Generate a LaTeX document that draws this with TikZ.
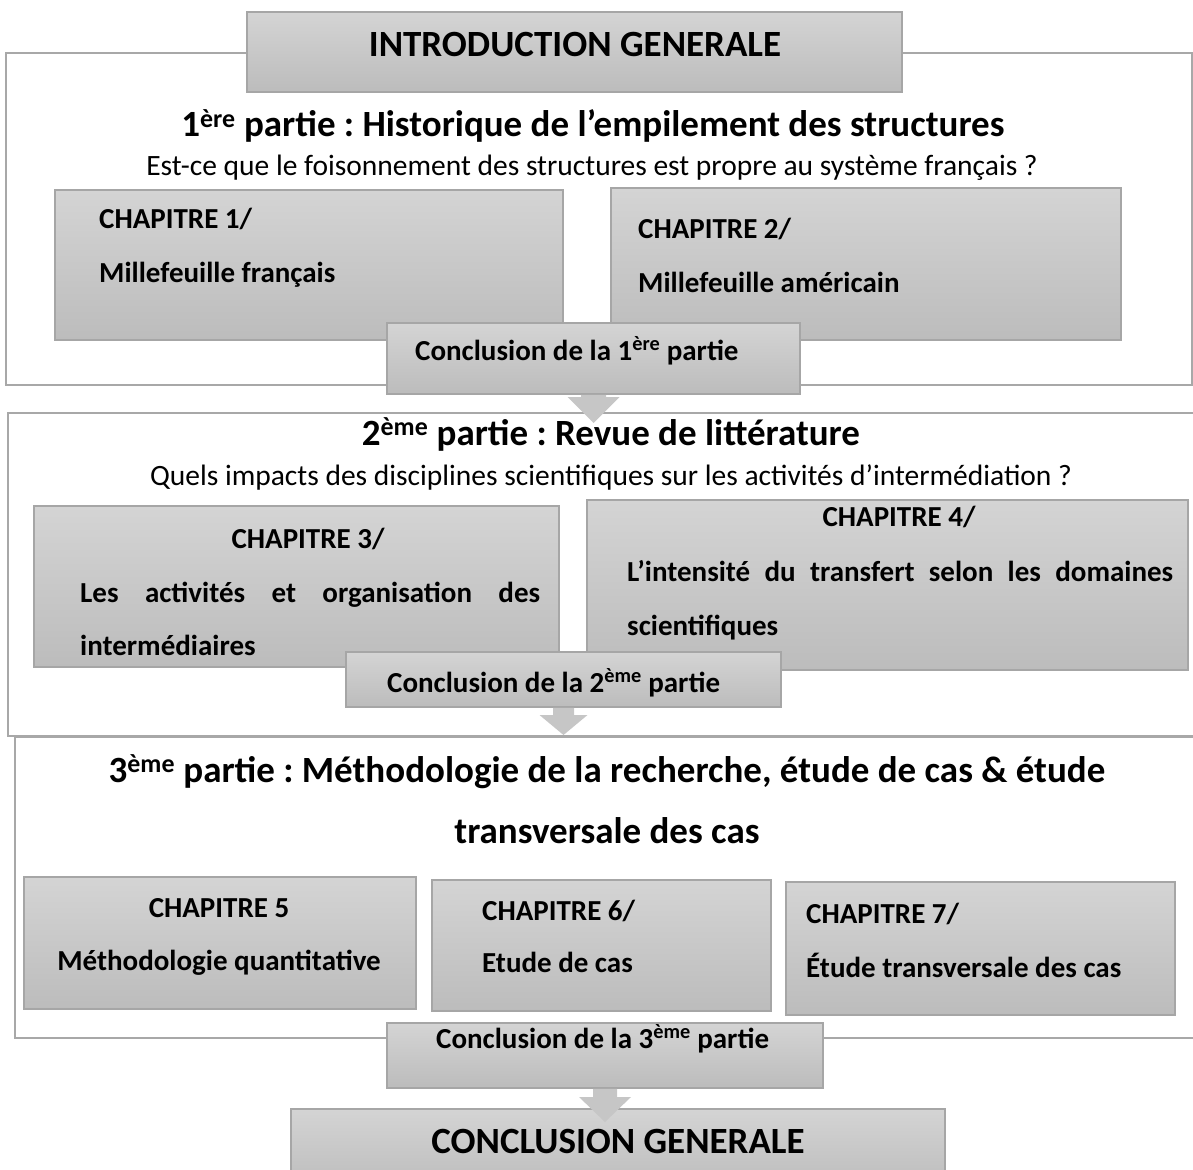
\documentclass[tikz,border=0pt]{standalone}
\usepackage{fontspec}
\setmainfont{Carlito}
\definecolor{boxtop}{HTML}{D4D4D4}
\definecolor{boxbot}{HTML}{BCBCBC}
\definecolor{boxline}{HTML}{A6A6A6}
\definecolor{frameline}{HTML}{A8A8A8}
\definecolor{arrowfill}{HTML}{C6C6C6}
\newcommand\fsz[1]{\fontsize{#1}{#1}\selectfont\frenchspacing}
\newcommand\mybox[6]{\node[#1, minimum width=#5pt, minimum height=#6pt] (#2) at (#3,#4) {};}
\newcommand\blockarr[5]{\fill[blockarrow, shift={(#1.south)}] (-#2,0.75) -- (#2,0.75) -- (#2,#3) -- (#4,#3) -- (0,#5) -- (-#4,#3) -- (-#2,#3) -- cycle;}
\begin{document}
\begin{tikzpicture}[x=1pt,y=-1pt,
  box/.style={draw=boxline, line width=1.5pt, top color=boxtop, bottom color=boxbot, rectangle, inner sep=0pt, outer sep=0pt, anchor=north west},
  framebox/.style={draw=frameline, line width=2pt, rectangle, inner sep=0pt, outer sep=0pt, anchor=north west},
  bigtxt/.style={font=\fsz{37}\bfseries, anchor=base, inner sep=0pt},
  head/.style={font=\fsz{37}\bfseries, anchor=base, inner sep=0pt},
  sub/.style={font=\fsz{29.5}, anchor=base, inner sep=0pt},
  chap/.style={font=\fsz{29}\bfseries, anchor=base west, inner sep=0pt},
  chapc/.style={font=\fsz{29}\bfseries, anchor=base, inner sep=0pt},
  blockarrow/.style={fill=arrowfill}
]
\useasboundingbox (0,0) rectangle (1193,1169);
\clip (0,0) rectangle (1193,1169);
% frames
\mybox{framebox}{p1}{6}{53}{1186}{332}
\mybox{framebox}{p2}{8}{413}{1200}{323}
\mybox{framebox}{p3}{15}{737}{1200}{301}
% boxes
\mybox{box}{intro}{247}{12}{655}{80}
\mybox{box}{ch1}{55}{190}{508}{150}
\mybox{box}{ch2}{611}{188}{510}{152}
\mybox{box}{c1}{387}{323}{413}{71}
\mybox{box}{ch3}{34}{506}{525}{161}
\mybox{box}{ch4}{587}{500}{601}{170}
\mybox{box}{c2}{346}{652}{435}{55}
\mybox{box}{ch5}{24}{877}{392}{132}
\mybox{box}{ch6}{432}{880}{339}{131}
\mybox{box}{ch7}{786}{882}{389}{133}
\mybox{box}{c3}{387}{1023}{436}{65}
\mybox{box}{cg}{291}{1109}{654}{80}
% arrows
\blockarr{c1}{12.5}{3}{26}{29}
\blockarr{c2}{10.5}{8}{24}{28}
\blockarr{c3}{12}{9}{26}{34}
% texts
\node[bigtxt] (introt) at (575,57) {INTRODUCTION GENERALE};
\node[head] (h1) at (593,137) {1\textsuperscript{ère} partie : Historique de l’empilement des structures};
\node[sub] (s1) at (592,176) {Est-ce que le foisonnement des structures est propre au système français ?};
\node[chap] (ch1a) at (99,228) {CHAPITRE 1/};
\node[chap] (ch1b) at (99,282) {Millefeuille français};
\node[chap] (ch2a) at (638,238) {CHAPITRE 2/};
\node[chap] (ch2b) at (638,292) {Millefeuille américain};
\node[chap] (c1t) at (415,360) {Conclusion de la 1\textsuperscript{ère} partie};
\node[head] (h2) at (611,445) {2\textsuperscript{ème} partie : Revue de littérature};
\node[sub] (s2) at (611,485) {Quels impacts des disciplines scientifiques sur les activités d’intermédiation ?};
\node[chapc] (ch3a) at (308,548) {CHAPITRE 3/};
\node[chap] (ch3b) at (80,602) {\makebox[460pt][s]{Les activités et organisation des}};
\node[chap] (ch3c) at (80,655) {intermédiaires};
\node[chapc] (ch4a) at (899,526) {CHAPITRE 4/};
\node[chap] (ch4b) at (627,581) {\makebox[546pt][s]{L’intensité du transfert selon les domaines}};
\node[chap] (ch4c) at (627,635) {scientifiques};
\node[chap] (c2t) at (387,692) {Conclusion de la 2\textsuperscript{ème} partie};
\node[head] (h3a) at (607,782) {3\textsuperscript{ème} partie : Méthodologie de la recherche, étude de cas \& étude};
\node[head] (h3b) at (607,843) {transversale des cas};
\node[chapc] (ch5a) at (219,917) {CHAPITRE 5};
\node[chapc] (ch5b) at (219,970) {Méthodologie quantitative};
\node[chap] (ch6a) at (482,920) {CHAPITRE 6/};
\node[chap] (ch6b) at (482,972) {Etude de cas};
\node[chap] (ch7a) at (806,923) {CHAPITRE 7/};
\node[chap] (ch7b) at (806,977) {Étude transversale des cas};
\node[chap] (c3t) at (436,1048) {Conclusion de la 3\textsuperscript{ème} partie};
\node[bigtxt] (cgt) at (618,1153) {CONCLUSION GENERALE};
\end{tikzpicture}
\end{document}
